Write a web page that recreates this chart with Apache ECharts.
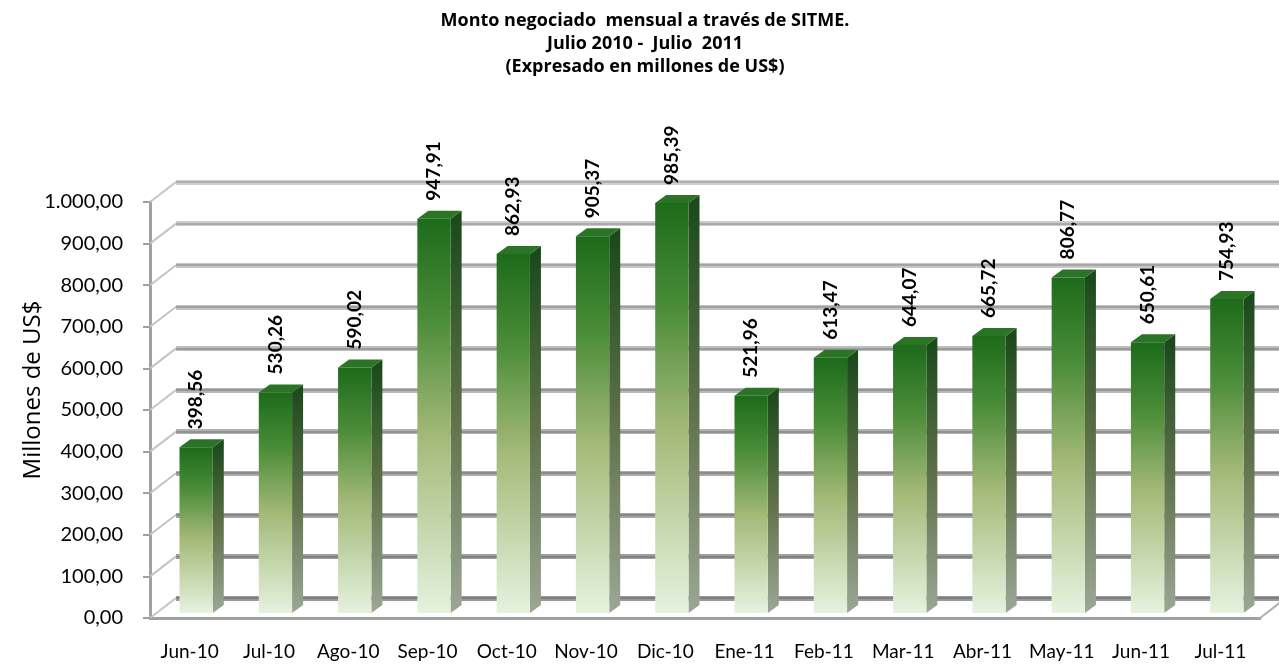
<!DOCTYPE html>
<html>
<head>
    <meta charset="UTF-8">
    <title>Monto negociado SITME</title>
    <script type="text/javascript" src="https://cdn.jsdelivr.net/npm/echarts@6/dist/echarts.min.js"></script>
    <style>
        html, body {
            margin: 0;
            padding: 0;
            background-color: #fff;
        }

        #chart {
            width: 1279px;
            height: 664px;
        }
    </style>
</head>
<body>
<div id="chart"></div>

<script>
    // data
    var months = ['Jun-10', 'Jul-10', 'Ago-10', 'Sep-10', 'Oct-10', 'Nov-10', 'Dic-10',
        'Ene-11', 'Feb-11', 'Mar-11', 'Abr-11', 'May-11', 'Jun-11', 'Jul-11'];
    var montos = [398.56, 530.26, 590.02, 947.91, 862.93, 905.37, 985.39,
        521.96, 613.47, 644.07, 665.72, 806.77, 650.61, 754.93];
    var wallLevels = [0, 100, 200, 300, 400, 500, 600, 700, 800, 900, 1000];

    // 3d look: back wall offset and bar depth, in px
    var WALL = [26, -20];
    var BAR_OFF = [6.5, -5];
    var BAR_DEP = [11, -8];

    function fmt(v) {
        var s = v.toFixed(2).split('.');
        var ent = s[0].replace(/\B(?=(\d{3})+(?!\d))/g, '.');
        return ent + ',' + s[1];
    }

    var chart = echarts.init(document.getElementById('chart'), null, {renderer: 'canvas'});

    function renderBar(params, api) {
        var idx = api.value(0);
        var v = api.value(1);
        var base = api.coord([idx, 0]);
        var top = api.coord([idx, v]);
        var w = api.size([1, 0])[0] * 0.42;
        var x0 = base[0] - w / 2 + BAR_OFF[0];
        var x1 = x0 + w;
        var yb = base[1] + BAR_OFF[1];
        var yt = top[1] + BAR_OFF[1];
        var dx = BAR_DEP[0], dy = BAR_DEP[1];

        return {
            type: 'group',
            children: [
                {
                    type: 'polygon',
                    shape: {points: [[x1, yt], [x1 + dx, yt + dy], [x1 + dx, yb + dy], [x1, yb]]},
                    style: {
                        fill: {
                            type: 'linear', x: 0, y: 0, x2: 0, y2: 1,
                            colorStops: [
                                {offset: 0, color: '#18481a'},
                                {offset: 0.5, color: '#5e7049'},
                                {offset: 1, color: '#9ba795'}
                            ]
                        }
                    }
                },
                {
                    type: 'polygon',
                    shape: {points: [[x0, yt], [x0 + dx, yt + dy], [x1 + dx, yt + dy], [x1, yt]]},
                    style: {fill: '#2b7426'}
                },
                {
                    type: 'rect',
                    shape: {x: x0, y: yt, width: w, height: yb - yt},
                    style: {
                        fill: {
                            type: 'linear', x: 0, y: 0, x2: 0, y2: 1,
                            colorStops: [
                                {offset: 0, color: '#1d6b1b'},
                                {offset: 0.25, color: '#4a8c38'},
                                {offset: 0.55, color: '#a3b977'},
                                {offset: 1, color: '#e6f2df'}
                            ]
                        }
                    }
                },
                {
                    type: 'text',
                    x: x0 + w / 2,
                    y: yt + dy - 10,
                    rotation: Math.PI / 2,
                    style: {
                        text: fmt(v),
                        fill: '#000',
                        fontFamily: 'Lato',
                        fontWeight: 'bold',
                        fontSize: 19,
                        align: 'left',
                        verticalAlign: 'middle'
                    }
                }
            ]
        };
    }

    // left side wall and right floor edge
    function renderWall(params, api) {
        var y = api.coord([0, api.value(1)])[1];
        var cs = params.coordSys;
        var kids = [{
            type: 'line',
            shape: {x1: cs.x, y1: y, x2: cs.x + WALL[0], y2: y + WALL[1]},
            style: {stroke: '#c4c4c4', lineWidth: 2}
        }];
        if (params.dataIndex === 0) {
            kids.push({
                type: 'line',
                shape: {x1: cs.x + cs.width, y1: y, x2: cs.x + cs.width + WALL[0], y2: y + WALL[1]},
                style: {stroke: '#b0b0b0', lineWidth: 2}
            });
        }
        return {type: 'group', children: kids};
    }

    var option = {
        animation: false,
        textStyle: {fontFamily: 'Lato'},
        title: {
            text: 'Monto negociado  mensual a través de SITME.\nJulio 2010 -  Julio  2011\n(Expresado en millones de US$)',
            left: 640,
            top: 4,
            textAlign: 'center',
            textStyle: {
                fontFamily: 'Open Sans',
                fontWeight: 'bold',
                fontSize: 18,
                lineHeight: 23,
                color: '#000'
            }
        },
        grid: [
            {left: 150, right: 19, top: 202, bottom: 46},
            {left: 176, right: 0, top: 182, bottom: 66}
        ],
        xAxis: [
            {
                type: 'category',
                gridIndex: 0,
                data: months,
                axisLine: {lineStyle: {color: '#a0a0a0', width: 3}},
                axisTick: {length: 6, lineStyle: {color: '#a0a0a0', width: 2}},
                axisLabel: {color: '#000', fontSize: 19, margin: 24, interval: 0, fontFamily: 'Lato'}
            },
            {
                type: 'category',
                gridIndex: 1,
                data: months,
                show: false
            }
        ],
        yAxis: [
            {
                type: 'value',
                gridIndex: 0,
                min: 0,
                max: 1000,
                interval: 100,
                axisLine: {show: true, lineStyle: {color: '#a0a0a0', width: 3}},
                axisTick: {show: true, length: 7, lineStyle: {color: '#a0a0a0', width: 2}},
                axisLabel: {
                    color: '#000', fontSize: 20, margin: 27, fontFamily: 'Lato',
                    formatter: function (v) { return fmt(v); }
                },
                splitLine: {show: false}
            },
            {
                type: 'value',
                gridIndex: 1,
                min: 0,
                max: 1000,
                interval: 100,
                name: 'Millones de US$',
                nameLocation: 'middle',
                nameGap: 131,
                nameTextStyle: {fontFamily: 'Open Sans', fontSize: 24, color: '#000'},
                axisLine: {show: false},
                axisTick: {show: false},
                axisLabel: {show: false},
                splitLine: {
                    lineStyle: {
                        width: 5,
                        color: ['#999999', '#9e9e9e', '#a4a4a4', '#aaaaaa', '#b1b1b1', '#b7b7b7',
                            '#bdbdbd', '#c2c2c2', '#c7c7c7', '#cbcbcb', '#cfcfcf']
                    }
                }
            },
            {
                type: 'value',
                gridIndex: 1,
                min: 0,
                max: 1000,
                interval: 100,
                axisLine: {show: false},
                axisTick: {show: false},
                axisLabel: {show: false},
                splitLine: {
                    lineStyle: {
                        width: 2,
                        color: ['#7f7f7f', '#838383', '#878787', '#8c8c8c', '#919191', '#969696',
                            '#9b9b9b', '#a0a0a0', '#a5a5a5', '#aaaaaa', '#afafaf']
                    }
                }
            }
        ],
        series: [
            {
                type: 'custom',
                name: 'pared',
                xAxisIndex: 0,
                yAxisIndex: 0,
                renderItem: renderWall,
                data: wallLevels.map(function (l) { return [0, l]; }),
                z: 1,
                silent: true
            },
            {
                type: 'custom',
                name: 'Monto',
                xAxisIndex: 0,
                yAxisIndex: 0,
                renderItem: renderBar,
                encode: {x: 0, y: 1},
                data: montos.map(function (v, i) { return [i, v]; }),
                z: 3
            }
        ]
    };

    chart.setOption(option);
</script>
</body>
</html>
